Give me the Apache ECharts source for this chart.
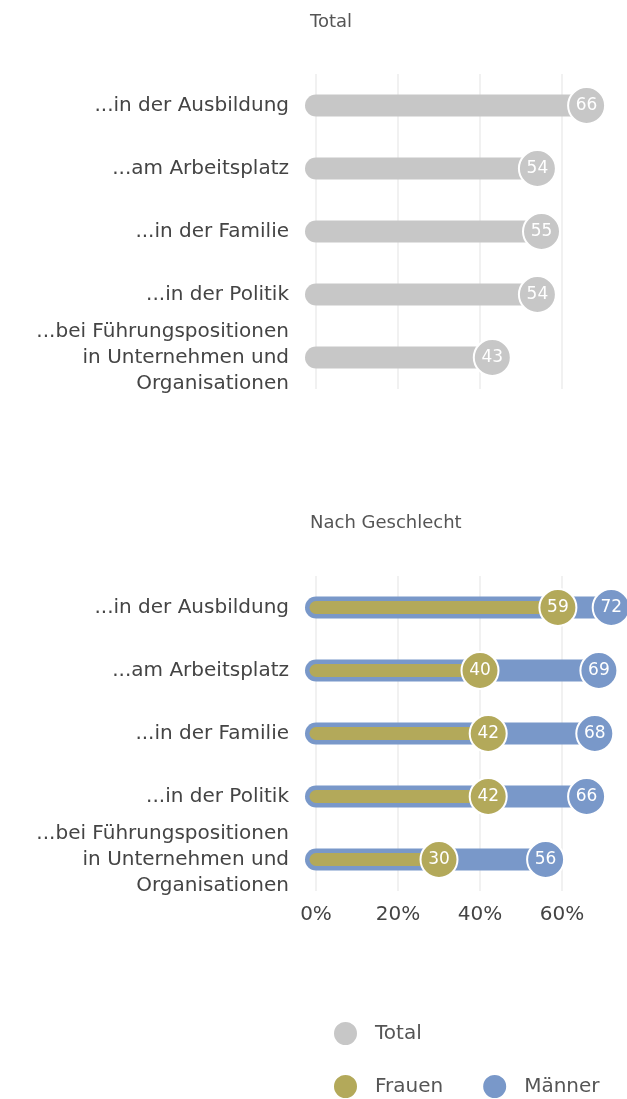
<!DOCTYPE html>
<html>
<head>
<meta charset="utf-8">
<script src="https://cdn.jsdelivr.net/npm/echarts@6/dist/echarts.min.js"></script>
<style>
  html, body { margin: 0; padding: 0; background: #fff; }
  #chart { width: 627px; height: 1099px; }
</style>
</head>
<body>
<div id="chart"></div>
<script>
// Kategorien (von oben nach unten)
var categories = [
  '...in der Ausbildung',
  '...am Arbeitsplatz',
  '...in der Familie',
  '...in der Politik',
  '...bei Führungspositionen\nin Unternehmen und\nOrganisationen'
]
var totalValues = [66, 54, 55, 54, 43]
var frauenValues = [59, 40, 42, 42, 30]
var maennerValues = [72, 69, 68, 66, 56]
var xTicks = [0, 20, 40, 60]

var FONT = 'DejaVu Sans'
var GRAY = '#c7c7c7'
var OLIVE = '#b3a95a'
var BLUE = '#7998c9'

// [wert, kategorie-index]
function pairs(values) {
  return values.map(function (v, i) { return [v, i] })
}

// Balken mit runden Enden, beginnt eine halbe Höhe links von 0
function pill(color, h) {
  return function (params, api) {
    var start = api.coord([0, api.value(1)])
    var end = api.coord([api.value(0), api.value(1)])
    var r = h / 2
    return {
      type: 'rect',
      shape: { x: start[0] - r, y: start[1] - r, width: end[0] - start[0] + r, height: h, r: r },
      style: { fill: color }
    }
  }
}

function dots(name, color, values, xi) {
  return {
    name: name,
    type: 'scatter',
    xAxisIndex: xi,
    yAxisIndex: xi,
    data: pairs(values),
    symbolSize: 37,
    z: 5,
    itemStyle: { color: color, borderColor: '#fff', borderWidth: 2, opacity: 1 },
    label: {
      show: true,
      position: 'inside',
      color: '#fff',
      fontFamily: FONT,
      fontSize: 17,
      formatter: function (p) { return p.value[0] }
    }
  }
}

function yAxis(gi) {
  return {
    type: 'category',
    gridIndex: gi,
    inverse: true,
    data: categories,
    axisLine: { show: false },
    axisTick: { show: false },
    axisLabel: { color: '#444', fontFamily: FONT, fontSize: 20, lineHeight: 26, margin: 27, align: 'right' }
  }
}

function xAxis(gi, showLabels) {
  return {
    type: 'value',
    gridIndex: gi,
    min: 0,
    max: 80,
    interval: 20,
    axisLine: { show: false },
    axisTick: { show: false },
    splitLine: { lineStyle: { color: '#ececec', width: 1.5 } },
    axisLabel: {
      show: showLabels,
      color: '#444',
      fontFamily: FONT,
      fontSize: 20,
      margin: 14,
      formatter: function (v) { return xTicks.indexOf(v) >= 0 ? v + '%' : '' }
    }
  }
}

var chart = echarts.init(document.getElementById('chart'))
var option = {
  animation: false,
  title: [
    { text: 'Total', left: 305, top: 8, textStyle: { color: '#555', fontFamily: FONT, fontSize: 18, fontWeight: 'normal' } },
    { text: 'Nach Geschlecht', left: 305, top: 509, textStyle: { color: '#555', fontFamily: FONT, fontSize: 18, fontWeight: 'normal' } }
  ],
  legend: [
    {
      data: ['Total'], left: 327, top: 1015, icon: 'circle', itemWidth: 25, itemHeight: 25, itemGap: 38,
      textStyle: { color: '#555', fontFamily: FONT, fontSize: 20, padding: [0, 0, 0, 12] }
    },
    {
      data: ['Frauen', 'Männer'], left: 327, top: 1068, icon: 'circle', itemWidth: 25, itemHeight: 25, itemGap: 38,
      textStyle: { color: '#555', fontFamily: FONT, fontSize: 20, padding: [0, 0, 0, 12] }
    }
  ],
  // 80% liegt außerhalb des Bildes
  grid: [
    { left: 316, width: 328, top: 74, height: 315, outerBoundsMode: 'none' },
    { left: 316, width: 328, top: 576, height: 315, outerBoundsMode: 'none' }
  ],
  xAxis: [xAxis(0, false), xAxis(1, true)],
  yAxis: [yAxis(0), yAxis(1)],
  series: [
    { type: 'custom', xAxisIndex: 0, yAxisIndex: 0, data: pairs(totalValues), renderItem: pill(GRAY, 22), z: 2 },
    dots('Total', GRAY, totalValues, 0),
    { type: 'custom', xAxisIndex: 1, yAxisIndex: 1, data: pairs(maennerValues), renderItem: pill(BLUE, 22), z: 2 },
    { type: 'custom', xAxisIndex: 1, yAxisIndex: 1, data: pairs(frauenValues), renderItem: pill(OLIVE, 13), z: 3 },
    dots('Männer', BLUE, maennerValues, 1),
    dots('Frauen', OLIVE, frauenValues, 1)
  ]
}
chart.setOption(option)
</script>
</body>
</html>
